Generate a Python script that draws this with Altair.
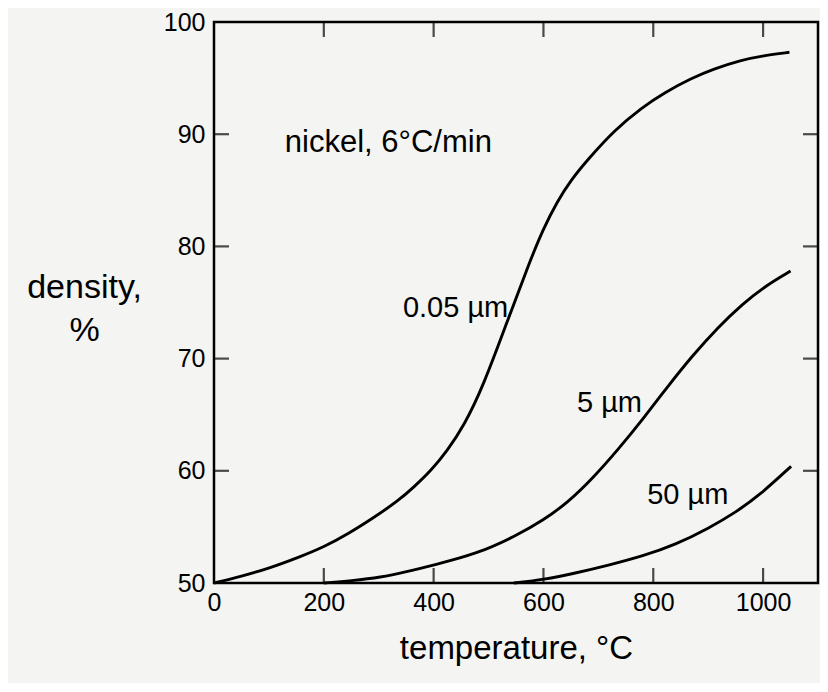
import altair as alt
import pandas as pd

# ---- data ----
t_005 = [0, 50, 100, 155, 200, 245, 290, 335, 365, 395, 425, 455, 490, 537, 573, 600, 625, 650, 680, 730, 780, 820, 870, 909, 960, 1000, 1048]
d_005 = [50, 50.6, 51.3, 52.3, 53.2, 54.4, 55.8, 57.3, 58.6, 60.0, 61.8, 64.0, 67.5, 73.7, 78.4, 81.6, 84.0, 85.9, 87.7, 90.4, 92.4, 93.7, 95.0, 95.8, 96.6, 97.0, 97.3]

t_5 = [200, 250, 304, 350, 400, 479, 550, 600, 645, 691, 736, 781, 826, 872, 918, 963, 1005, 1050]
d_5 = [50, 50.2, 50.5, 51.0, 51.6, 52.6, 54.2, 55.6, 57.2, 59.4, 61.9, 64.6, 67.5, 70.3, 72.8, 74.9, 76.5, 77.8]

t_50 = [546, 600, 660, 720, 781, 840, 902, 950, 993, 1051]
d_50 = [50, 50.3, 50.9, 51.6, 52.4, 53.4, 54.9, 56.3, 57.8, 60.4]

x_labels = [0, 200, 400, 600, 800, 1000]
y_labels = [50, 60, 70, 80, 90, 100]
x_inner_ticks = [200, 400, 600, 800, 1000]
y_inner_ticks = [60, 70, 80, 90]

head_text = ["nickel, 6°C/min"]
head_t = [129]
head_d = [88.4]

ann_text = ["0.05 µm", "5 µm", "50 µm"]
ann_t = [344, 661, 789]
ann_d = [73.7, 65.2, 57.0]

# ---- tables ----
rows = []
for name, ts, ds in [("0.05 µm", t_005, d_005), ("5 µm", t_5, d_5), ("50 µm", t_50, d_50)]:
    for t, d in zip(ts, ds):
        rows.append({"size": name, "temperature": t, "density": d})
curves = pd.DataFrame(rows)
xt = pd.DataFrame({"temperature": x_inner_ticks})
yt = pd.DataFrame({"density": y_inner_ticks})
ann = pd.DataFrame({"temperature": ann_t, "density": ann_d, "label": ann_text})
head = pd.DataFrame({"temperature": head_t, "density": head_d, "label": head_text})

W, H = 604, 561
FONT = "Liberation Sans"

X = alt.X(
    "temperature:Q",
    scale=alt.Scale(domain=[0, 1100], nice=False, zero=False),
    axis=alt.Axis(
        values=x_labels, format="d", ticks=False, domain=False, grid=False, labelFlush=False,
        labelFontSize=25, labelColor="black", labelFont=FONT, labelPadding=7,
        title="temperature, °C", titleFontSize=33, titleFont=FONT, titleFontWeight="normal",
        titleColor="black", titlePadding=17,
    ),
)
Y = alt.Y(
    "density:Q",
    scale=alt.Scale(domain=[50, 100], nice=False, zero=False),
    axis=alt.Axis(
        values=y_labels, format="d", ticks=False, domain=False, grid=False, labelFlush=False,
        labelFontSize=25, labelColor="black", labelFont=FONT, labelPadding=9,
        title=["density,", "%"], titleFontSize=34, titleFont=FONT, titleFontWeight="normal",
        titleColor="black", titleAngle=0, titleAlign="center", titleBaseline="alphabetic",
        titleX=-130, titleY=275, titleLineHeight=43,
    ),
)

lines = alt.Chart(curves).mark_line(
    color="black", strokeWidth=2.9, interpolate="basis"
).encode(x=X, y=Y, detail="size:N")

tick_style = dict(color="black", thickness=2.2, size=15)
bottom = alt.Chart(xt).mark_tick(**tick_style).encode(x=X, y=alt.value(H - 7.5))
top = alt.Chart(xt).mark_tick(**tick_style).encode(x=X, y=alt.value(7.5))
left = alt.Chart(yt).mark_tick(**tick_style).encode(y=Y, x=alt.value(7.5))
right = alt.Chart(yt).mark_tick(**tick_style).encode(y=Y, x=alt.value(W - 7.5))

labels = alt.Chart(ann).mark_text(
    align="left", baseline="alphabetic", fontSize=29, font=FONT, color="black"
).encode(x=X, y=Y, text="label:N")
heading = alt.Chart(head).mark_text(
    align="left", baseline="alphabetic", fontSize=31, font=FONT, color="black"
).encode(x=X, y=Y, text="label:N")

chart = alt.layer(lines, bottom, top, left, right, labels, heading).properties(
    width=W, height=H,
    autosize=alt.AutoSizeParams(type="none"),
    padding={"left": 206, "top": 14, "right": 2, "bottom": 100},
    background="#f4f4f2",
).configure_view(stroke="black", strokeWidth=2.5)

chart.save("out.html", embed_options={"renderer": "svg", "actions": False})
